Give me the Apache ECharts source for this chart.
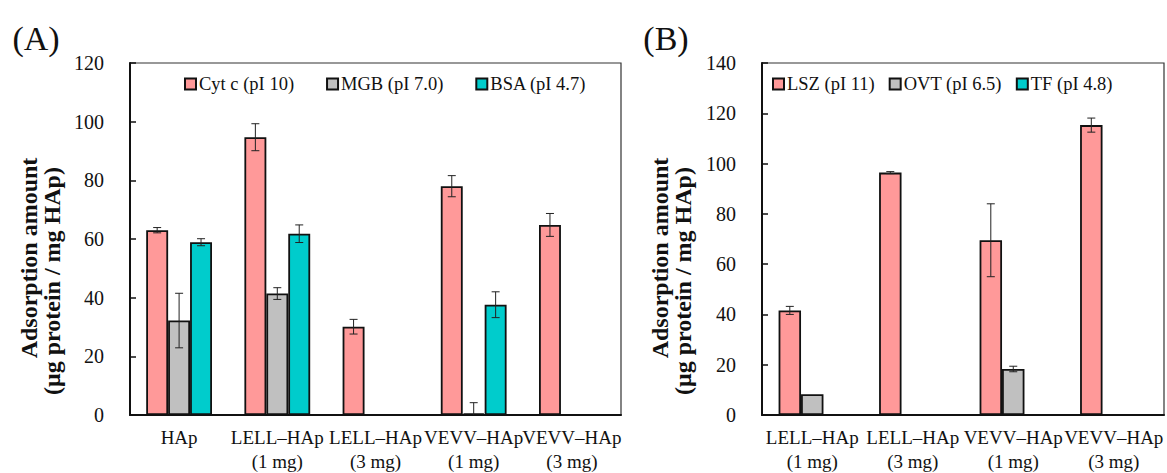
<!DOCTYPE html>
<html>
<head>
<meta charset="utf-8">
<script src="https://cdn.jsdelivr.net/npm/echarts@6/dist/echarts.min.js"></script>
<style>
  html, body { margin: 0; padding: 0; background: #fff; }
  #chart { width: 1167px; height: 473px; }
</style>
</head>
<body>
<div id="chart"></div>
<script>
// ---- data, panel A ----
var catsA = ['HAp', 'LELL\u2013HAp\n(1 mg)', 'LELL\u2013HAp\n(3 mg)', 'VEVV\u2013HAp\n(1 mg)', 'VEVV\u2013HAp\n(3 mg)'];
var namesA = ['Cyt c (pI 10)', 'MGB (pI 7.0)', 'BSA (pI 4.7)'];
var cytc = [63.0, 94.7, 30.1, 78.0, 64.8];
var cytcErr = [0.9, 4.6, 2.5, 3.6, 3.9];
var mgb = [32.2, 41.4, null, 0.5, null];
var mgbErr = [9.3, 2.0, null, 3.7, null];
var bsa = [58.9, 61.8, null, 37.6, null];
var bsaErr = [1.2, 3.0, null, 4.4, null];
var ticksA = { min: 0, max: 120, interval: 20 };

// ---- data, panel B ----
var catsB = ['LELL\u2013HAp\n(1 mg)', 'LELL\u2013HAp\n(3 mg)', 'VEVV\u2013HAp\n(1 mg)', 'VEVV\u2013HAp\n(3 mg)'];
var namesB = ['LSZ (pI 11)', 'OVT (pI 6.5)', 'TF (pI 4.8)'];
var lsz = [41.6, 96.4, 69.5, 115.3];
var lszErr = [1.6, 0.4, 14.5, 2.8];
var ovt = [8.3, null, 18.3, null];
var ovtErr = [0, null, 1.1, null];
var tf = [null, null, null, null];
var ticksB = { min: 0, max: 140, interval: 20 };

var colors = ['#ff9999', '#c0c0c0', '#00cccc'];
var font = 'Liberation Serif, DejaVu Serif, serif';
var gapFrac = 0.33;

var chart = echarts.init(document.getElementById('chart'), null, { renderer: 'svg' });

function errData(vals, errs) {
  var out = [];
  vals.forEach(function (v, i) {
    if (v != null && errs[i]) out.push([i, v, errs[i]]);
  });
  return out;
}

function errSeries(grid, idx, vals, errs) {
  return {
    type: 'custom',
    xAxisIndex: grid, yAxisIndex: grid,
    z: 10,
    silent: true,
    data: errData(vals, errs),
    renderItem: function (params, api) {
      var c = api.value(0), v = api.value(1), e = api.value(2);
      var catW = api.size([1, 0])[0];
      var usable = catW * (1 - gapFrac);
      var bw = usable / 3;
      var base = api.coord([c, v]);
      var x = base[0] - usable / 2 + bw * (idx + 0.5);
      var hi = api.coord([c, v + e])[1];
      var lo = api.coord([c, Math.max(v - e, 0)])[1];
      var st = { stroke: '#222', lineWidth: 1 };
      var kids = [
        { type: 'line', shape: { x1: x, y1: hi, x2: x, y2: lo }, style: st },
        { type: 'line', shape: { x1: x - 4, y1: hi, x2: x + 4, y2: hi }, style: st }
      ];
      if (v - e > 0) kids.push({ type: 'line', shape: { x1: x - 4, y1: lo, x2: x + 4, y2: lo }, style: st });
      return { type: 'group', children: kids };
    }
  };
}

function barSeries(grid, name, data, color) {
  return {
    name: name,
    type: 'bar',
    xAxisIndex: grid, yAxisIndex: grid,
    data: data,
    barGap: '0%',
    barCategoryGap: (gapFrac * 100) + '%',
    itemStyle: { color: color, borderColor: '#111', borderWidth: 1.8 }
  };
}

function xAxis(grid, cats) {
  return {
    type: 'category', gridIndex: grid, data: cats,
    axisLine: { lineStyle: { color: '#111', width: 2 } },
    axisTick: { show: false },
    axisLabel: { interval: 0, color: '#111', fontFamily: font, fontSize: 19, lineHeight: 24, margin: 10, hideOverlap: false }
  };
}

function yAxis(grid, t) {
  return {
    type: 'value', gridIndex: grid, min: t.min, max: t.max, interval: t.interval,
    axisLine: { show: true, lineStyle: { color: '#111', width: 2 } },
    axisTick: { show: true, inside: true, length: 6, lineStyle: { color: '#111', width: 1.5 } },
    axisLabel: { color: '#111', fontFamily: font, fontSize: 20, margin: 26 },
    splitLine: { show: false }
  };
}

function legend(names, left, gap) {
  return {
    data: names, left: left, top: 74, padding: 0,
    itemWidth: 11, itemHeight: 11, itemGap: gap, icon: 'rect',
    textStyle: { color: '#111', fontFamily: font, fontSize: 18.5, lineHeight: 20, padding: [0, 0, 0, -2] }
  };
}

function label(txt, x, y, size, bold, rot) {
  return {
    type: 'text', x: x, y: y, rotation: rot || 0,
    style: { text: txt, fill: '#111', fontFamily: font, fontSize: size, fontWeight: bold ? 'bold' : 'normal', textAlign: 'center', textVerticalAlign: 'middle' }
  };
}

chart.setOption({
  animation: false,
  grid: [
    { left: 130, top: 63, width: 491, height: 355, show: true, borderColor: '#333', borderWidth: 1.2 },
    { left: 762, top: 63, width: 402, height: 355, show: true, borderColor: '#333', borderWidth: 1.2 }
  ],
  xAxis: [xAxis(0, catsA), xAxis(1, catsB)],
  yAxis: [yAxis(0, ticksA), yAxis(1, ticksB)],
  legend: [legend(namesA, 184, 32), legend(namesB, 772, 14)],
  graphic: [
    label('(A)', 36, 38, 34, false),
    label('(B)', 666, 38, 34, false),
    label('Adsorption amount', 29, 258, 24, true, Math.PI / 2),
    label('(\u03bcg protein / mg HAp)', 52, 281, 24, true, Math.PI / 2),
    label('Adsorption amount', 660, 258, 24, true, Math.PI / 2),
    label('(\u03bcg protein / mg HAp)', 683, 281, 24, true, Math.PI / 2)
  ],
  series: [
    barSeries(0, namesA[0], cytc, colors[0]),
    barSeries(0, namesA[1], mgb, colors[1]),
    barSeries(0, namesA[2], bsa, colors[2]),
    errSeries(0, 0, cytc, cytcErr),
    errSeries(0, 1, mgb, mgbErr),
    errSeries(0, 2, bsa, bsaErr),
    barSeries(1, namesB[0], lsz, colors[0]),
    barSeries(1, namesB[1], ovt, colors[1]),
    barSeries(1, namesB[2], tf, colors[2]),
    errSeries(1, 0, lsz, lszErr),
    errSeries(1, 1, ovt, ovtErr)
  ]
});
</script>
</body>
</html>
